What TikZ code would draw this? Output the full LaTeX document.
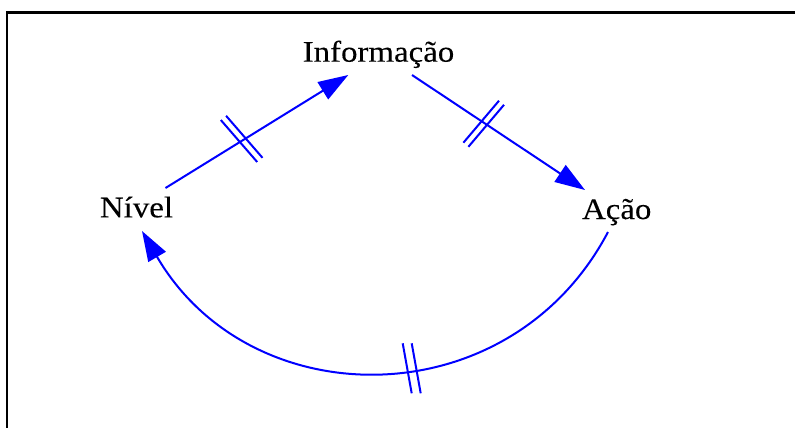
\documentclass[tikz,border=0pt]{standalone}
\usepackage{fontspec}
\newfontfamily\lblfont[FakeStretch=1.1,FakeBold=0.12]{Liberation Serif}
\usetikzlibrary{arrows.meta}
\definecolor{linkblue}{RGB}{0,0,255}
\tikzset{
  lbl/.style={inner sep=0pt, anchor=base, font=\lblfont\fontsize{30}{31}\selectfont},
  link/.style={draw=linkblue, line width=2bp, -{Triangle[length=30bp,width=20bp]}},
  delaymark/.style={draw=linkblue, line width=2bp},
  frameline/.style={draw=black, line width=2.6bp}
}
\begin{document}
\begin{tikzpicture}[x=1bp,y=-1bp]
\useasboundingbox (0,0) rectangle (795,428);
% frame (top and left edges)
\coordinate (fr1) at (795,12.2);
\coordinate (fr2) at (6.8,12.2);
\coordinate (fr3) at (6.8,428);
\draw[frameline] (fr1) -- (fr2) -- (fr3);
% labels
\node[lbl] (info) at (378.5,61.7) {Informação};
\node[lbl] (nivel) at (136.5,217.3) {Nível};
\node[lbl] (acao) at (616.7,219) {Ação};
% connector end points
\coordinate (nivelOut) at (165.5,188);
\coordinate (infoIn) at (348.3,75);
\coordinate (infoOut) at (412,75);
\coordinate (acaoIn) at (585,190);
\coordinate (acaoOut) at (608,232);
\coordinate (nivelIn) at (142,231);
% connectors
\draw[link] (nivelOut) -- (infoIn);
\draw[link] (infoOut) -- (acaoIn);
\draw[link] (acaoOut) .. controls (510,418) and (251,418) .. (nivelIn);
% delay marks
\draw[delaymark] (239,141) ++(-18.2,-21) -- ++(36.4,42);
\draw[delaymark] (244.3,136.8) ++(-18.2,-21) -- ++(36.4,42);
\draw[delaymark] (481.2,121.7) ++(-17.8,21) -- ++(35.6,-42);
\draw[delaymark] (486.2,125.8) ++(-17.8,21) -- ++(35.6,-42);
\draw[delaymark] (407.2,368.3) ++(-4.5,-25) -- ++(9,50);
\draw[delaymark] (416.2,368.3) ++(-4.5,-25) -- ++(9,50);
\end{tikzpicture}
\end{document}
